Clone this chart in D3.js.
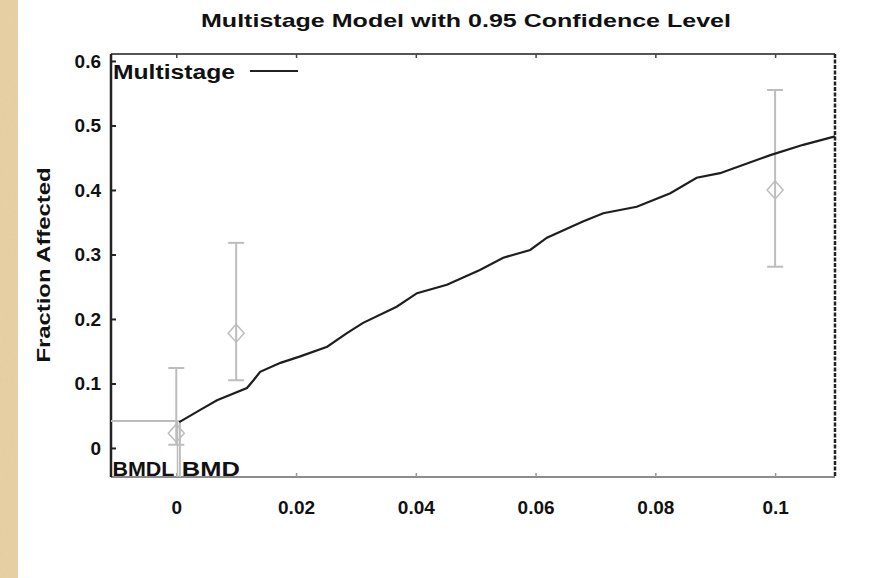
<!DOCTYPE html>
<html>
<head>
<meta charset="utf-8">
<script src="https://cdn.jsdelivr.net/npm/d3@7"></script>
<style>
  html, body { margin: 0; padding: 0; background: #ffffff; }
  svg { display: block; }
</style>
</head>
<body>
<svg id="chart" width="886" height="578"></svg>
<script>
// ---- data ----
const titleText = "Multistage Model with 0.95 Confidence Level";
const yLabelText = "Fraction Affected";
const legendLabel = "Multistage";
const xTicks = [0, 0.02, 0.04, 0.06, 0.08, 0.1];
const xTickLabels = ["0", "0.02", "0.04", "0.06", "0.08", "0.1"];
const yTicks = [0, 0.1, 0.2, 0.3, 0.4, 0.5, 0.6];
const yTickLabels = ["0", "0.1", "0.2", "0.3", "0.4", "0.5", "0.6"];

// observed doses, responses, 95% CI
const obsDose = [0, 0.01, 0.1];
const obsResp = [0.023, 0.178, 0.40];
const obsLow  = [0.005, 0.105, 0.281];
const obsHigh = [0.124, 0.318, 0.555];

// fitted multistage curve
const curveDose = [0.0005, 0.004, 0.0068, 0.0118, 0.0129, 0.014, 0.0174, 0.0207, 0.0252, 0.0285,
                   0.0312, 0.0368, 0.0402, 0.0452, 0.0507, 0.0546, 0.0591, 0.0619, 0.0679, 0.0713,
                   0.0769, 0.0825, 0.0869, 0.0908, 0.0992, 0.1047, 0.1100];
const curveResp = [0.040, 0.059, 0.074, 0.093, 0.105, 0.118, 0.132, 0.142, 0.157, 0.178,
                   0.194, 0.219, 0.240, 0.253, 0.276, 0.295, 0.307, 0.326, 0.351, 0.364,
                   0.374, 0.395, 0.419, 0.426, 0.454, 0.470, 0.483];

// benchmark dose markers
const bmr = 0.042;
const bmdl = 0.0002;
const bmd = 0.0006;

// ---- layout ----
const svg = d3.select("#chart");
const L = 111, R = 835, T = 54, B = 477;
const x = d3.scaleLinear().domain([-0.0109, 0.1100]).range([L, R]);
const y = d3.scaleLinear().domain([-0.0450, 0.6108]).range([B, T]);

// page background + left beige strip
svg.append("rect").attr("x", 0).attr("y", 0).attr("width", 886).attr("height", 578).attr("fill", "#ffffff");
const defs = svg.append("defs");
const filt = defs.append("filter").attr("id", "paper");
filt.append("feTurbulence").attr("type", "fractalNoise").attr("baseFrequency", 0.35).attr("numOctaves", 2).attr("seed", 3).attr("result", "n");
filt.append("feColorMatrix").attr("in", "n").attr("type", "matrix")
  .attr("values", "0 0 0 0 0.80  0 0 0 0 0.66  0 0 0 0 0.44  0 0 0 -0.9 0.9").attr("result", "c");
filt.append("feComposite").attr("in", "c").attr("in2", "SourceGraphic").attr("operator", "atop");
svg.append("rect").attr("x", 0).attr("y", 0).attr("width", 18).attr("height", 578).attr("fill", "#e6cd9c");
svg.append("rect").attr("x", 0).attr("y", 0).attr("width", 18).attr("height", 578).attr("fill", "#e6cd9c").attr("filter", "url(#paper)").attr("opacity", 0.7);

const font = "Liberation Sans, Arial, sans-serif";

// title
svg.append("text").attr("x", 466).attr("y", 27).attr("text-anchor", "middle")
  .attr("font-family", font).attr("font-size", 19).attr("font-weight", "bold").attr("fill", "#111")
  .attr("textLength", 530).attr("lengthAdjust", "spacingAndGlyphs")
  .text(titleText);

// y label
svg.append("text").attr("transform", "translate(50,265) rotate(-90)").attr("text-anchor", "middle")
  .attr("font-family", font).attr("font-size", 19).attr("font-weight", "bold").attr("fill", "#111")
  .attr("textLength", 195).attr("lengthAdjust", "spacingAndGlyphs")
  .text(yLabelText);

// frame
svg.append("line").attr("x1", L).attr("x2", R).attr("y1", T).attr("y2", T).attr("stroke", "#555").attr("stroke-width", 2);
svg.append("line").attr("x1", L).attr("x2", R).attr("y1", B).attr("y2", B).attr("stroke", "#666").attr("stroke-width", 1.5);
svg.append("line").attr("x1", L).attr("x2", L).attr("y1", T).attr("y2", B).attr("stroke", "#222").attr("stroke-width", 2.5);
svg.append("line").attr("x1", R).attr("x2", R).attr("y1", T).attr("y2", B).attr("stroke", "#222").attr("stroke-width", 2.5).attr("stroke-dasharray", "4,1.5");

// y axis ticks / labels
const yAxis = d3.axisLeft(y).tickValues(yTicks).tickSize(-5).tickPadding(10)
  .tickFormat((d, i) => yTickLabels[i]);
const gy = svg.append("g").attr("transform", `translate(${L},0)`).call(yAxis);
gy.select(".domain").remove();
gy.selectAll(".tick line").attr("stroke", "#222").attr("stroke-width", 2);
gy.selectAll(".tick text").attr("font-family", font).attr("font-size", 19).attr("font-weight", "bold").attr("fill", "#111");

// x axis ticks / labels
const xAxis = d3.axisBottom(x).tickValues(xTicks).tickSize(-4).tickPadding(24)
  .tickFormat((d, i) => xTickLabels[i]);
const gx = svg.append("g").attr("transform", `translate(0,${B})`).call(xAxis);
gx.select(".domain").remove();
gx.selectAll(".tick line").attr("stroke", "#999").attr("stroke-width", 1.5);
gx.selectAll(".tick text").attr("font-family", font).attr("font-size", 19).attr("font-weight", "bold").attr("fill", "#111");
// top ticks
const gxt = svg.append("g").attr("transform", `translate(0,${T})`).call(d3.axisTop(x).tickValues(xTicks).tickSize(-4).tickFormat(""));
gxt.select(".domain").remove();
gxt.selectAll(".tick line").attr("stroke", "#444").attr("stroke-width", 1.5);

// BMD guide lines (gray)
const gray = "#bdbdbd";
svg.append("line").attr("x1", x.range()[0]).attr("x2", x(bmd)).attr("y1", y(bmr)).attr("y2", y(bmr))
  .attr("stroke", gray).attr("stroke-width", 2);
svg.append("line").attr("x1", x(bmd)).attr("x2", x(bmd)).attr("y1", y(bmr)).attr("y2", B)
  .attr("stroke", gray).attr("stroke-width", 2);
svg.append("line").attr("x1", x(bmdl)).attr("x2", x(bmdl)).attr("y1", y(bmr)).attr("y2", B)
  .attr("stroke", gray).attr("stroke-width", 1.5);

// error bars
const eb = svg.append("g");
obsDose.forEach((d, i) => {
  const cx = x(d);
  eb.append("line").attr("x1", cx).attr("x2", cx).attr("y1", y(obsLow[i])).attr("y2", y(obsHigh[i]))
    .attr("stroke", gray).attr("stroke-width", 2);
  [obsLow[i], obsHigh[i]].forEach(v => {
    eb.append("line").attr("x1", cx - 8).attr("x2", cx + 8).attr("y1", y(v)).attr("y2", y(v))
      .attr("stroke", gray).attr("stroke-width", 2);
  });
  const cy = y(obsResp[i]);
  eb.append("path").attr("d", `M${cx - 8},${cy} L${cx},${cy - 9} L${cx + 8},${cy} L${cx},${cy + 9} Z`)
    .attr("fill", "none").attr("stroke", gray).attr("stroke-width", 1.5);
});

// fitted curve
const line = d3.line().x((d, i) => x(curveDose[i])).y(d => y(d));
svg.append("path").datum(curveResp).attr("d", line)
  .attr("fill", "none").attr("stroke", "#1e1e1e").attr("stroke-width", 2.2);

// legend
svg.append("text").attr("x", 113).attr("y", 79).attr("font-family", font).attr("font-size", 20)
  .attr("font-weight", "bold").attr("fill", "#111").attr("textLength", 122).attr("lengthAdjust", "spacingAndGlyphs")
  .text(legendLabel);
svg.append("line").attr("x1", 250).attr("x2", 298).attr("y1", 71).attr("y2", 71)
  .attr("stroke", "#222").attr("stroke-width", 2.2);

// BMDL / BMD labels
svg.append("text").attr("x", x(bmdl) - 3).attr("y", 476).attr("text-anchor", "end")
  .attr("font-family", font).attr("font-size", 20).attr("font-weight", "bold").attr("fill", "#111")
  .attr("textLength", 62).attr("lengthAdjust", "spacingAndGlyphs").text("BMDL");
svg.append("text").attr("x", x(bmd) + 2).attr("y", 476).attr("text-anchor", "start")
  .attr("font-family", font).attr("font-size", 20).attr("font-weight", "bold").attr("fill", "#111")
  .attr("textLength", 58).attr("lengthAdjust", "spacingAndGlyphs").text("BMD");
</script>
</body>
</html>
